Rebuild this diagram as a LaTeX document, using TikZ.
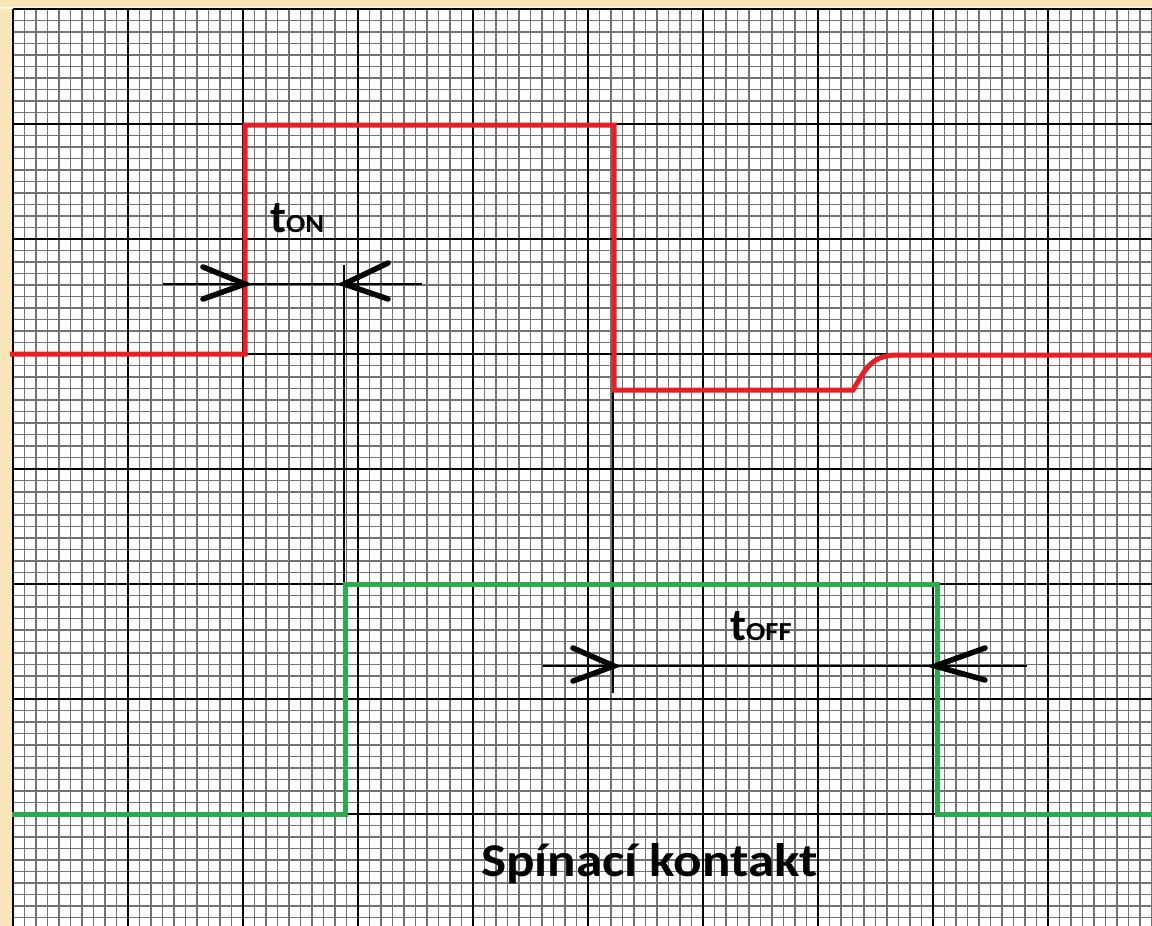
\documentclass[tikz,border=0pt]{standalone}
\usepackage{fontspec}
\setmainfont{Carlito}
\definecolor{bgbeige}{RGB}{248,230,184}
\definecolor{sigred}{RGB}{232,30,38}
\definecolor{siggreen}{RGB}{40,172,76}
\tikzset{
  minorline/.style={draw=black!55, line width=1.1pt},
  majorline/.style={draw=black, line width=1.4pt},
  redsig/.style={draw=sigred, line width=5pt, line join=miter, line cap=butt},
  greensig/.style={draw=siggreen, line width=5pt, line join=miter, line cap=butt},
  dimline/.style={draw=black, line width=1.5pt},
  chevron/.style={draw=black, line width=5.5pt, line cap=round, line join=miter},
}
\newcommand{\tlabel}[1]{\bfseries\fontsize{46}{46}\selectfont t\scalebox{1.1}[1]{\fontsize{26}{26}\selectfont #1}}
\begin{document}
\begin{tikzpicture}[x=1pt,y=-1pt]
\useasboundingbox (0,0) rectangle (1152,926);
% background
\fill[bgbeige] (0,0) rectangle (1152,926);
\fill[white!70!bgbeige] (0,7) rectangle (1152,9);
\fill[white] (13,9) rectangle (1152,926);
% grid
\foreach \i in {0,...,99} \draw[minorline] (13+\i*11.5,9) -- (13+\i*11.5,926);
\foreach \j in {0,...,79} \draw[minorline] (13,9+\j*11.5) -- (1152,9+\j*11.5);
\foreach \i in {0,...,9} \draw[majorline] (13+\i*115,9) -- (13+\i*115,926);
\foreach \j in {0,...,7} \draw[majorline] (13,9+\j*115) -- (1152,9+\j*115);

% key coordinates
\coordinate (ronA) at (245,284);
\coordinate (gonA) at (344,284);
\coordinate (roffA) at (614,666);
\coordinate (goffA) at (935,666);

% dimension lines
\draw[dimline] (163,284) -- (ronA) -- (gonA) -- (422,284);
\draw[dimline] (344,265) -- (344,584);
\draw[dimline] (543,666) -- (roffA) -- (goffA) -- (1027,666);
\draw[dimline] (613,390) -- (613,693);

% signals
\draw[redsig] (10,354) -- (245,354) -- (245,125) -- (614,125) -- (614,390) -- (853,390)
  .. controls (865,370) and (871,355) .. (897,355) -- (1152,355);
\draw[greensig] (12,814) -- (345,814) -- (345,584) -- (937,584) -- (937,814) -- (1152,814);

% chevrons
\draw[chevron] (203,267) -- (ronA) -- (203,299);
\draw[chevron] (388,263) -- (gonA) -- (388,299);
\draw[chevron] (573,648) -- (roffA) -- (573,681);
\draw[chevron] (985,648) -- (goffA) -- (985,680);

% labels
\node[anchor=base west, inner sep=0pt] (ton) at (270,232) {\tlabel{ON}};
\node[anchor=base west, inner sep=0pt] (toff) at (730,640) {\tlabel{OFF}};
\node[anchor=base west, inner sep=0pt] (title) at (481,876)
  {\scalebox{1.13}[1]{\bfseries\fontsize{47}{47}\selectfont Spínací kontakt}};
\end{tikzpicture}
\end{document}
